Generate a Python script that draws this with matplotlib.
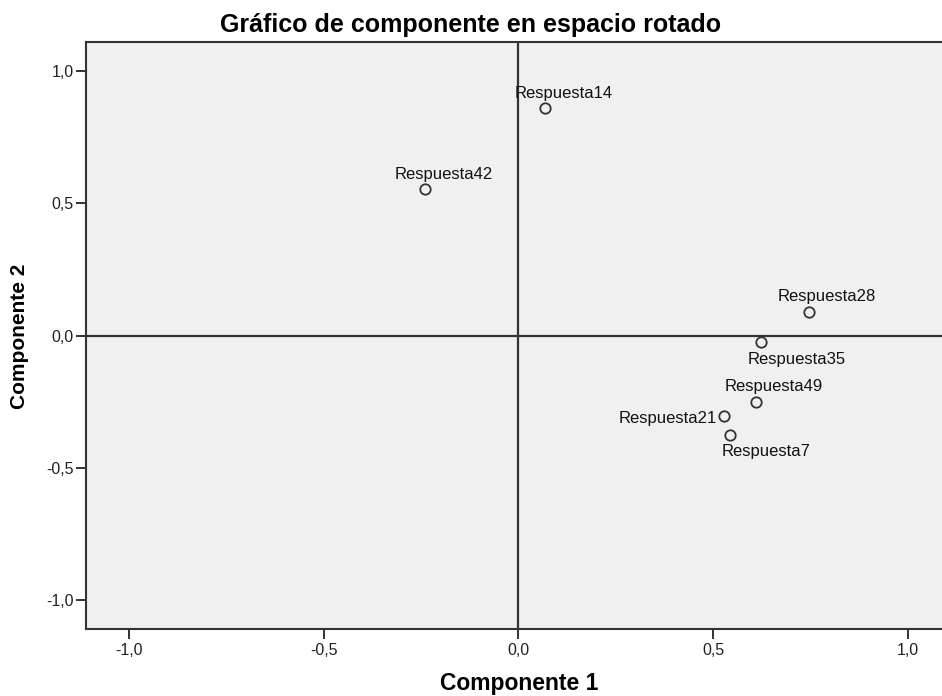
import matplotlib
matplotlib.use("Agg")
import matplotlib.pyplot as plt
from matplotlib.ticker import FixedLocator, FuncFormatter

plt.rcParams['font.family'] = ['Liberation Sans', 'DejaVu Sans']

# ---- data ----
labels = ["Respuesta14", "Respuesta42", "Respuesta28", "Respuesta35",
          "Respuesta49", "Respuesta21", "Respuesta7"]
comp1 = [0.069, -0.239, 0.746, 0.622, 0.610, 0.527, 0.543]
comp2 = [0.860, 0.553, 0.087, -0.025, -0.253, -0.305, -0.376]
tick_values = [-1.0, -0.5, 0.0, 0.5, 1.0]

# label placement (pixel offsets, alignment)
label_style = {
    "Respuesta14": (18, 10, "center"),
    "Respuesta42": (18, 10.5, "center"),
    "Respuesta28": (18, 11, "center"),
    "Respuesta35": (36, -21.5, "center"),
    "Respuesta49": (18, 11, "center"),
    "Respuesta21": (-7, -7, "right"),
    "Respuesta7": (36, -20.5, "center"),
}

W, H = 942, 696
fig = plt.figure(figsize=(W / 100, H / 100), dpi=100)
fig.patch.set_facecolor("white")

left_px, right_px, top_px, bottom_px = 86, 950.8, 41.7, 629.3
ax = fig.add_axes([left_px / W, 1 - bottom_px / H,
                   (right_px - left_px) / W, (bottom_px - top_px) / H])
ax.set_facecolor("#f0f0f0")
ax.set_xlim(-1.11, 1.11)
ax.set_ylim(-1.11, 1.11)

ax.axhline(0, color="#333333", lw=1.6, zorder=1)
ax.axvline(0, color="#333333", lw=1.6, zorder=1)

ax.plot(comp1, comp2, linestyle="none", marker="o", markersize=7.5,
        markerfacecolor="none", markeredgecolor="#333333",
        markeredgewidth=1.3, zorder=3)

for name, x, y in zip(labels, comp1, comp2):
    dx, dy, ha = label_style[name]
    ax.annotate(name, (x, y), xytext=(dx, dy), textcoords="offset pixels",
                ha=ha, va="baseline", fontsize=12, color="#111111", zorder=4)

fmt = FuncFormatter(lambda v, p: f"{v:.1f}".replace(".", ","))
ax.xaxis.set_major_locator(FixedLocator(tick_values))
ax.yaxis.set_major_locator(FixedLocator(tick_values))
ax.xaxis.set_major_formatter(fmt)
ax.yaxis.set_major_formatter(fmt)
ax.tick_params(axis="both", direction="out", length=7, width=1.4,
               color="#333333", labelsize=11.5, labelcolor="#222222")
ax.tick_params(axis="x", pad=3)
ax.tick_params(axis="y", pad=2)

for s in ["left", "bottom", "top"]:
    ax.spines[s].set_color("#333333")
    ax.spines[s].set_linewidth(1.5)
ax.spines["right"].set_visible(False)

fig.text(0.5, 1 - 31.7 / H, "Gráfico de componente en espacio rotado",
         ha="center", va="baseline", fontsize=18, fontweight="bold")
fig.text(519 / W, 1 - 690 / H, "Componente 1", ha="center", va="baseline",
         fontsize=16.5, fontweight="bold")
fig.text(20 / W, 1 - 336 / H, "Componente 2", ha="center", va="center",
         rotation=90, fontsize=15, fontweight="bold")

fig.savefig("out.png", dpi=100)
